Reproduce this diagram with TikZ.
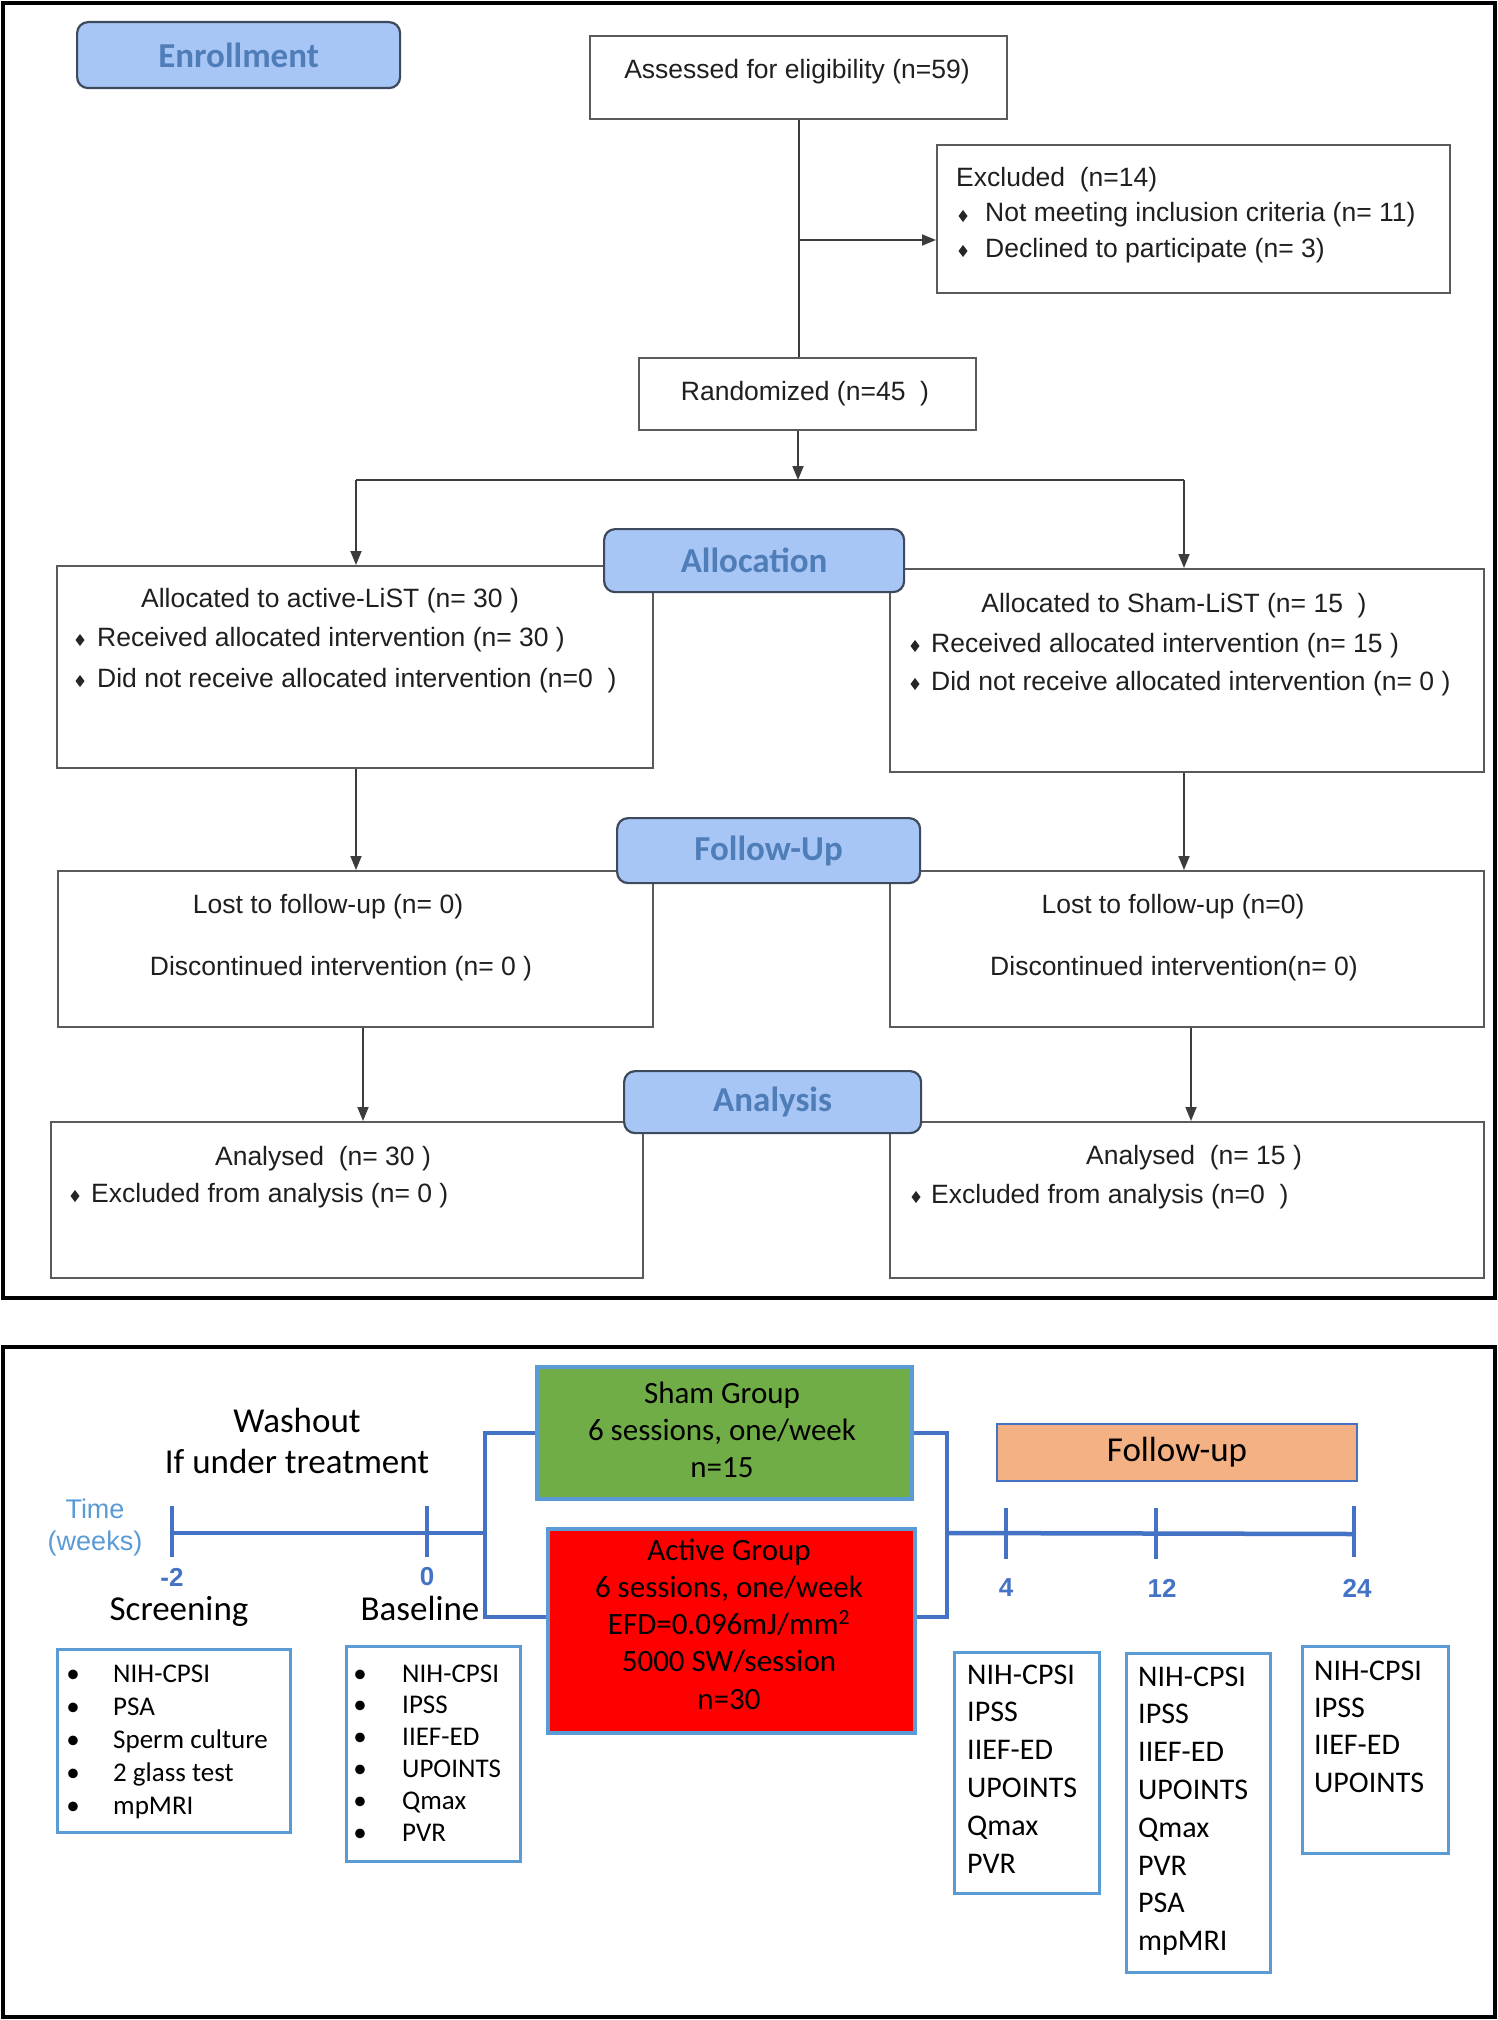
\documentclass[tikz,border=0pt]{standalone}
\usepackage{fontspec}
\setmainfont{Liberation Sans}
\newfontfamily\calfont{Carlito}
\usetikzlibrary{arrows.meta}
\definecolor{boxgray}{HTML}{5A5A5A}
\definecolor{linegray}{HTML}{3C3C3C}
\definecolor{phasefill}{HTML}{A7C6F6}
\definecolor{phaseedge}{HTML}{3E4A5C}
\definecolor{phasetext}{HTML}{4F7DB8}
\definecolor{tblue}{HTML}{4472C4}
\definecolor{lblue}{HTML}{5B9BD5}
\definecolor{shamgreen}{HTML}{70AD47}
\definecolor{activered}{HTML}{FF0000}
\definecolor{fuorange}{HTML}{F4B183}
\newcommand\fs[1]{\fontsize{#1}{#1}\selectfont}
\begin{document}
\begin{tikzpicture}[x=1pt, y=-1pt,
  flowbox/.style={draw=boxgray, line width=2.2pt, fill=white, inner sep=0pt, anchor=north west},
  phase/.style={draw=phaseedge, line width=2.2pt, fill=phasefill, rounded corners=11pt, inner sep=0pt, anchor=north west, text=phasetext, font=\calfont\bfseries\fs{35}},
  txt/.style={inner sep=0pt, text=black!88, font=\fs{26.5}},
  conn/.style={draw=linegray, line width=1.8pt},
  arr/.style={conn, -{Triangle[length=14pt,width=11pt]}},
  tline/.style={draw=tblue, line width=4.5pt},
  lbox/.style={draw=lblue, line width=2.5pt, fill=white, inner sep=0pt, anchor=north west},
  grpbox/.style={draw=lblue, line width=4pt, inner sep=0pt, anchor=north west},
  ctxt/.style={inner sep=0pt, text=black, font=\calfont\fs{27}},
  ctxtb/.style={inner sep=0pt, text=black, font=\calfont\fs{30}},
  gtxt/.style={inner sep=0pt, text=black, font=\calfont\fs{31}, anchor=base},
  htxt/.style={inner sep=0pt, text=black, font=\calfont\fs{35}, anchor=base},
  num/.style={inner sep=0pt, text=tblue, font=\bfseries\fs{26}},
  dia/.pic={\fill[black!85] (0,-6) -- (4.5,0) -- (0,6) -- (-4.5,0) -- cycle;}
]
\useasboundingbox (0,0) rectangle (1498,2020);

% ---------------- top panel ----------------
\draw[line width=3.5pt] (3,3) rectangle (1495,1298);

\node[flowbox, minimum width=417pt, minimum height=83pt] (assess) at (589,35) {};
\node[flowbox, minimum width=513pt, minimum height=148pt] (excl) at (936,144) {};
\node[flowbox, minimum width=337pt, minimum height=72pt] (rand) at (638,357) {};
\node[flowbox, minimum width=596pt, minimum height=202pt] (allocL) at (56,565) {};
\node[flowbox, minimum width=594pt, minimum height=203pt] (allocR) at (889,568) {};
\node[flowbox, minimum width=595pt, minimum height=156pt] (followL) at (57,870) {};
\node[flowbox, minimum width=594pt, minimum height=156pt] (followR) at (889,870) {};
\node[flowbox, minimum width=592pt, minimum height=156pt] (anaL) at (50,1121) {};
\node[flowbox, minimum width=594pt, minimum height=156pt] (anaR) at (889,1121) {};

% texts
\node[txt, anchor=base] (assessT) at (797,79) {Assessed for eligibility (n=59)};
\node[txt, anchor=base west] (exclT) at (956,187) {Excluded\ \ (n=14)};
\pic at (963,216) {dia};
\node[txt, anchor=base west] (exclA) at (985,222) {Not meeting inclusion criteria (n= 11)};
\pic at (963,251) {dia};
\node[txt, anchor=base west] (exclB) at (985,257) {Declined to participate (n= 3)};
\node[txt, anchor=base] (randT) at (805,400) {Randomized (n=45\ \ )};

\node[txt, anchor=base] (allocLT) at (330,607) {Allocated to active-LiST (n= 30 )};
\pic at (80,640) {dia};
\node[txt, anchor=base west] (allocLA) at (97,646) {Received allocated intervention (n= 30 )};
\pic at (80,681) {dia};
\node[txt, anchor=base west] (allocLB) at (97,687) {Did not receive allocated intervention (n=0\ \ )};

\node[txt, anchor=base] (allocRT) at (1174,612) {Allocated to Sham-LiST (n= 15\ \ )};
\pic at (915,646) {dia};
\node[txt, anchor=base west] (allocRA) at (931,652) {Received allocated intervention (n= 15 )};
\pic at (915,684) {dia};
\node[txt, anchor=base west] (allocRB) at (931,690) {Did not receive allocated intervention (n= 0 )};

\node[txt, anchor=base] (followLA) at (328,913) {Lost to follow-up (n= 0)};
\node[txt, anchor=base] (followLB) at (341,975) {Discontinued intervention (n= 0 )};
\node[txt, anchor=base] (followRA) at (1173,913) {Lost to follow-up (n=0)};
\node[txt, anchor=base] (followRB) at (1174,975) {Discontinued intervention(n= 0)};

\node[txt, anchor=base] (anaLT) at (323,1165) {Analysed\ \ (n= 30 )};
\pic at (75,1196) {dia};
\node[txt, anchor=base west] (anaLA) at (91,1202) {Excluded from analysis (n= 0 )};
\node[txt, anchor=base] (anaRT) at (1194,1164) {Analysed\ \ (n= 15 )};
\pic at (916,1197) {dia};
\node[txt, anchor=base west] (anaRA) at (931,1203) {Excluded from analysis (n=0\ \ )};

% connectors
\coordinate (br1) at (798,240);
\coordinate (split) at (798,480);
\coordinate (sl) at (356,480);
\coordinate (sr) at (1184,480);
\coordinate (xL2) at (363,0);
\coordinate (xR2) at (1191,0);
\draw[conn] (assess.south) -- (assess.south |- rand.north);
\draw[arr] (br1) -- (br1 -| excl.west);
\draw[arr] (rand.south -| split) -- (split);
\draw[conn] (sl) -- (sr);
\draw[arr] (sl) -- (sl |- allocL.north);
\draw[arr] (sr) -- (sr |- allocR.north);
\draw[arr] (allocL.south -| sl) -- (followL.north -| sl);
\draw[arr] (allocR.south -| sr) -- (followR.north -| sr);
\draw[arr] (followL.south -| xL2) -- (anaL.north -| xL2);
\draw[arr] (followR.south -| xR2) -- (anaR.north -| xR2);

% phase labels
\node[phase, minimum width=323pt, minimum height=66pt] (enroll) at (76,21) {Enrollment};
\node[phase, minimum width=300pt, minimum height=63pt] (allocP) at (603,528) {Allocation};
\node[phase, minimum width=303pt, minimum height=65pt] (followP) at (616,817) {Follow-Up};
\node[phase, minimum width=297pt, minimum height=62pt] (anaP) at (623,1070) {Analysis};

% ---------------- bottom panel ----------------
\draw[line width=3.5pt] (3,1347) rectangle (1495,2017);

\node[grpbox, fill=shamgreen, minimum width=375pt, minimum height=132pt] (sham) at (535,1365) {};
\node[grpbox, fill=activered, minimum width=367pt, minimum height=204pt] (active) at (546,1527) {};
\node[draw=tblue, line width=2pt, fill=fuorange, inner sep=0pt, anchor=north west, minimum width=360pt, minimum height=57pt, font=\calfont\fs{35}] (fu) at (996,1423) {Follow-up};

\node[gtxt] (sham1) at (722,1403) {Sham Group};
\node[gtxt] (sham2) at (722,1440) {6 sessions, one/week};
\node[gtxt] (sham3) at (722,1477) {n=15};
\node[gtxt] (act1) at (729,1560) {Active Group};
\node[gtxt] (act2) at (729,1597) {6 sessions, one/week};
\node[gtxt] (act3) at (729,1634) {EFD=0.096mJ/mm\textsuperscript{2}};
\node[gtxt] (act4) at (729,1671) {5000 SW/session};
\node[gtxt] (act5) at (729,1709) {n=30};

% timeline
\coordinate (tm2) at (172,1533);
\coordinate (t0) at (427,1533);
\coordinate (bl) at (485,1533);
\coordinate (brk) at (485,1617);
\coordinate (br) at (947,1533);
\coordinate (brk2) at (947,1617);
\coordinate (t4) at (1006,1533);
\coordinate (t12) at (1156,1533);
\coordinate (t24) at (1354,1534);
\draw[tline] (tm2) -- (bl);
\draw[tline] (sham.west) -| (brk) -- (brk -| active.west);
\draw[tline] (sham.east) -| (brk2) -- (brk2 -| active.east);
\draw[tline] (br) -- (t24);
\draw[tline] (tm2) ++(0,-27) -- ++(0,51);
\draw[tline] (t0) ++(0,-27) -- ++(0,51);
\draw[tline] (t4) ++(0,-25) -- ++(0,51);
\draw[tline] (t12) ++(0,-25) -- ++(0,51);
\draw[tline] (t24) ++(0,-28) -- ++(0,51);

\node[inner sep=0pt, text=lblue, font=\fs{27}, anchor=base] (timeA) at (95,1518) {Time};
\node[inner sep=0pt, text=lblue, font=\fs{27}, anchor=base] (timeB) at (95,1550) {(weeks)};
\node[num] (nm2) at (172,1577) {-2};
\node[num] (n0) at (427,1577) {0};
\node[num] (n4) at (1006,1588) {4};
\node[num] (n12) at (1162,1588) {12};
\node[num] (n24) at (1357,1588) {24};

\node[htxt] (wash1) at (297,1432) {Washout};
\node[htxt] (wash2) at (297,1473) {If under treatment};
\node[htxt] (scrT) at (179,1620) {Screening};
\node[htxt] (baseT) at (420,1620) {Baseline};

% lists
\node[lbox, minimum width=233pt, minimum height=183pt] (scr) at (56,1648) {};
\node[lbox, minimum width=174pt, minimum height=215pt] (base) at (345,1645) {};
\node[lbox, minimum width=145pt, minimum height=241pt] (w4) at (953,1651) {};
\node[lbox, minimum width=144pt, minimum height=319pt] (w12) at (1125,1652) {};
\node[lbox, minimum width=146pt, minimum height=207pt] (w24) at (1301,1645) {};

\foreach \t [count=\i from 0] in {NIH-CPSI,PSA,Sperm culture,2 glass test,mpMRI} {
  \node[ctxt, anchor=base] (scrb-\i) at (73,{1682+33*\i}) {•};
  \node[ctxt, anchor=base west] (scrt-\i) at (113,{1682+33*\i}) {\t};
}
\foreach \t [count=\i from 0] in {NIH-CPSI,IPSS,IIEF-ED,UPOINTS,Qmax,PVR} {
  \node[ctxt, anchor=base] (baseb-\i) at (360,{1682+31.8*\i}) {•};
  \node[ctxt, anchor=base west] (baset-\i) at (402,{1682+31.8*\i}) {\t};
}
\foreach \t [count=\i from 0] in {NIH-CPSI,IPSS,IIEF-ED,UPOINTS,Qmax,PVR} {
  \node[ctxtb, anchor=base west] (w4t-\i) at (967,{1684+37.8*\i}) {\t};
}
\foreach \t [count=\i from 0] in {NIH-CPSI,IPSS,IIEF-ED,UPOINTS,Qmax,PVR,PSA,mpMRI} {
  \node[ctxtb, anchor=base west] (w12t-\i) at (1138,{1686+37.8*\i}) {\t};
}
\foreach \t [count=\i from 0] in {NIH-CPSI,IPSS,IIEF-ED,UPOINTS} {
  \node[ctxtb, anchor=base west] (w24t-\i) at (1314,{1680+37.4*\i}) {\t};
}
\end{tikzpicture}
\end{document}
